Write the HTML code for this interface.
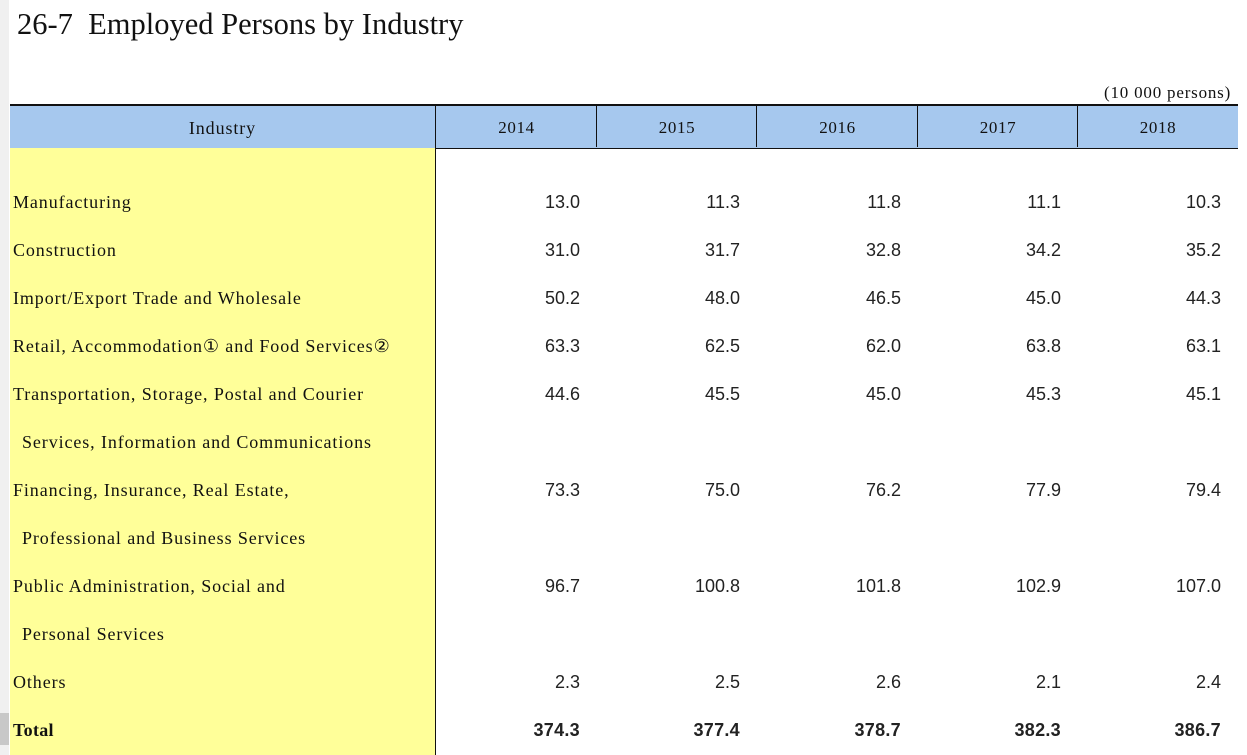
<!DOCTYPE html>
<html><head><meta charset="utf-8">
<style>
body{margin:0;width:1247px;height:755px;overflow:hidden;background:#fff;position:relative;font-family:"Liberation Serif",serif;}
.a{position:absolute;white-space:nowrap;}
.lab{font-family:"Liberation Serif",serif;font-size:18px;letter-spacing:0.9px;color:#111;line-height:20px;}
.num{font-family:"Liberation Sans",sans-serif;font-size:18px;color:#222;line-height:20px;text-align:right;}
</style></head><body>
<div class="a" style="left:0;top:0;width:9px;height:755px;background:#f0f0f0"></div>
<div class="a" style="left:0;top:713px;width:9px;height:32px;background:#c8c8c8"></div>
<div class="a" style="left:17px;top:6px;font-size:30.5px;color:#111;line-height:36px">26-7&nbsp; Employed Persons by Industry</div>
<div class="a" style="left:1104px;top:83px;font-size:17px;letter-spacing:0.8px;color:#111">(10 000 persons)</div>
<div class="a" style="left:10px;top:104px;width:1228px;height:42px;background:#a6c8ee;border-top:2px solid #111;border-bottom:1px solid #111"></div>
<div class="a" style="left:10px;top:148px;width:425px;height:607px;background:#ffff99"></div>
<div id="t"></div>
<script>
const years=["2014","2015","2016","2017","2018"];
const labels=["Manufacturing","Construction","Import/Export Trade and Wholesale","Retail, Accommodation\u2460 and Food Services\u2461","Transportation, Storage, Postal and Courier","  Services, Information and Communications","Financing, Insurance, Real Estate,","  Professional and Business Services","Public Administration, Social and","  Personal Services","Others","Total"];
const v2014=["13.0","31.0","50.2","63.3","44.6","","73.3","","96.7","","2.3","374.3"];
const v2015=["11.3","31.7","48.0","62.5","45.5","","75.0","","100.8","","2.5","377.4"];
const v2016=["11.8","32.8","46.5","62.0","45.0","","76.2","","101.8","","2.6","378.7"];
const v2017=["11.1","34.2","45.0","63.8","45.3","","77.9","","102.9","","2.1","382.3"];
const v2018=["10.3","35.2","44.3","63.1","45.1","","79.4","","107.0","","2.4","386.7"];
const series=[v2014,v2015,v2016,v2017,v2018];
const colX=[436,597,757,918,1078,1238];
const b=document.body;
function mk(cls,txt,style){const d=document.createElement('div');d.className='a '+cls;d.textContent=txt;d.style.cssText=style;b.appendChild(d);return d;}
let h=mk('lab','Industry','left:10px;top:118px;width:425px;text-align:center;font-size:18px');


years.forEach((y,i)=>{
 const d=mk('lab',y,`left:${colX[i]}px;top:118px;width:${colX[i+1]-colX[i]}px;text-align:center;font-size:17px;letter-spacing:0.6px`);
 
 
});
colX.slice(0,5).forEach((x,i)=>{
 const l=mk('','',`left:${x-1}px;top:105px;width:1px;height:${i==0?650:42}px;background:#111`);
 
 
});
labels.forEach((t,r)=>{
 const cy=202+r*48;
 const bold=r==labels.length-1?'font-weight:bold;letter-spacing:0.3px;':'';
 const ind=t.startsWith('  ')?22:13;
 const l=mk('lab',t.trim(),`left:${ind}px;top:${cy-10}px;${bold}`);
 
 
 series.forEach((s,i)=>{
  if(!s[r])return;
  const d=mk('num',s[r],`left:${colX[i]}px;top:${cy-10}px;width:${colX[i+1]-colX[i]-17}px;${bold}`);
  
  
 });
});
</script>
</body></html>
